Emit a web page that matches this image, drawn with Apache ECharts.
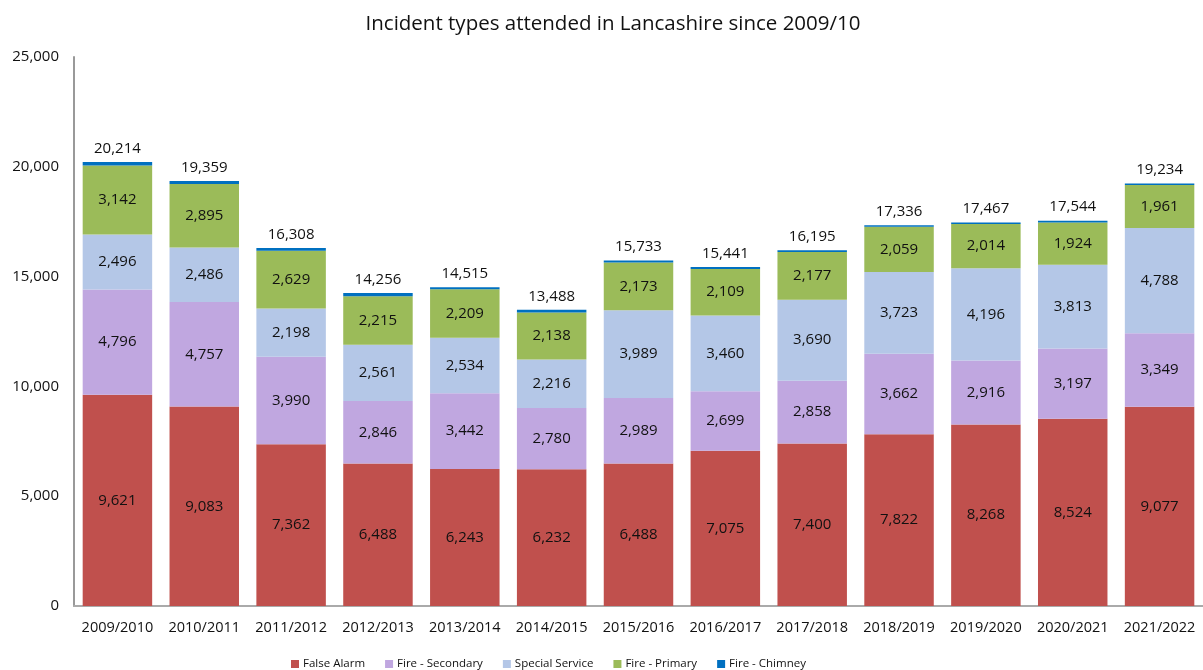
<!DOCTYPE html>
<html><head><meta charset="utf-8">
<script src="https://cdn.jsdelivr.net/npm/echarts@6/dist/echarts.min.js"></script>
<style>html,body{margin:0;padding:0;background:#fff}#c{width:1203px;height:670px}</style>
</head><body><div id="c"></div>
<script>
const categories = ["2009/2010","2010/2011","2011/2012","2012/2013","2013/2014","2014/2015","2015/2016","2016/2017","2017/2018","2018/2019","2019/2020","2020/2021","2021/2022"];
const falseAlarm = [9621,9083,7362,6488,6243,6232,6488,7075,7400,7822,8268,8524,9077];
const fireSecondary = [4796,4757,3990,2846,3442,2780,2989,2699,2858,3662,2916,3197,3349];
const specialService = [2496,2486,2198,2561,2534,2216,3989,3460,3690,3723,4196,3813,4788];
const firePrimary = [3142,2895,2629,2215,2209,2138,2173,2109,2177,2059,2014,1924,1961];
const fireChimney = [159,138,129,146,87,122,94,98,70,70,73,86,59];
const totals = [20214,19359,16308,14256,14515,13488,15733,15441,16195,17336,17467,17544,19234];

const font = '"Open Sans", "Liberation Sans", sans-serif';
const fmt = v => v.toLocaleString('en-US');
const inner = {show:true, position:'inside', color:'#111', fontSize:15, fontFamily:font, formatter:p=>fmt(p.value)};
function s(name, data, color, label){
  return {name, type:'bar', stack:'t', data, barCategoryGap:'20%',
    itemStyle:{color}, label: label || {show:false}, emphasis:{disabled:true}};
}
const chart = echarts.init(document.getElementById('c'));
chart.setOption({
  animation:false,
  title:{text:'Incident types attended in Lancashire since 2009/10', left:608, textAlign:'center', top:9,
    textStyle:{fontFamily:font, fontSize:20.5, fontWeight:'normal', color:'#111'}},
  grid:{left:74, right:-2, top:57, bottom:64},
  legend:{bottom:-5, left:286, itemWidth:8, itemHeight:8, itemGap:20, icon:'rect',
    textStyle:{fontFamily:font, fontSize:11.5, color:'#111', padding:[0,0,0,-1]}},
  xAxis:{type:'category', data:categories,
    axisLine:{show:true, lineStyle:{color:'#aaa', width:2}}, axisTick:{show:false},
    axisLabel:{interval:0, fontFamily:font, fontSize:14.5, color:'#111', margin:14}},
  yAxis:{type:'value', min:0, max:25000, interval:5000,
    axisLine:{show:true, lineStyle:{color:'#999', width:2}}, axisTick:{show:false},
    splitLine:{show:false},
    axisLabel:{fontFamily:font, fontSize:15, color:'#111', margin:15, formatter:v=>fmt(v)}},
  series:[
    s('False Alarm', falseAlarm, '#C0504D', inner),
    s('Fire - Secondary', fireSecondary, '#C0A7E0', inner),
    s('Special Service', specialService, '#B4C7E7', inner),
    s('Fire - Primary', firePrimary, '#9BBB59', inner),
    s('Fire - Chimney', fireChimney, '#0070C0', {show:true, position:'top', distance:6,
      color:'#111', fontSize:15, fontFamily:font, formatter:p=>fmt(totals[p.dataIndex])})
  ]
});
</script></body></html>
